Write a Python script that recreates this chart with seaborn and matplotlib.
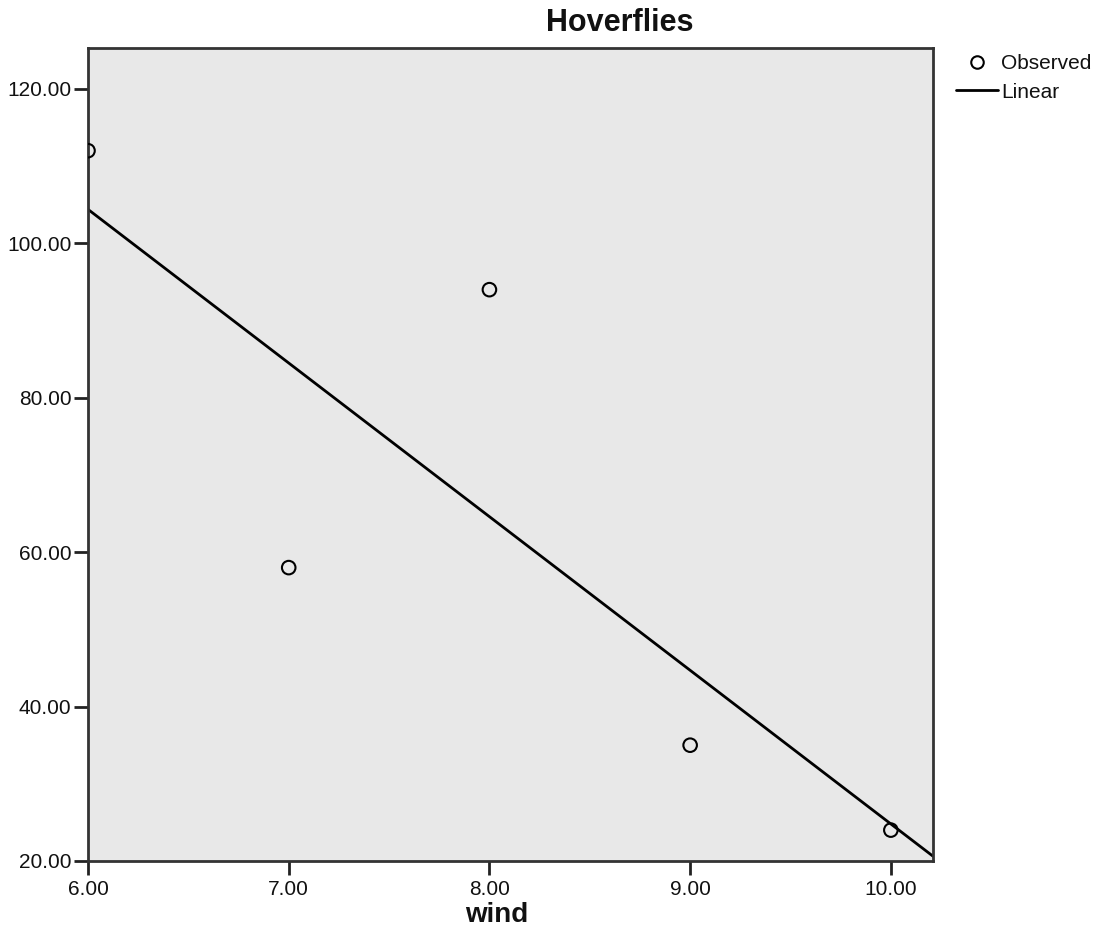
import matplotlib
matplotlib.use("Agg")
import matplotlib.pyplot as plt
import seaborn as sns
import pandas as pd
from matplotlib.lines import Line2D

# data
wind = [6.0, 7.0, 8.0, 9.0, 10.0]
hoverflies = [112, 58, 94, 35, 24]
x_ticks = [6.0, 7.0, 8.0, 9.0, 10.0]
y_ticks = [20.0, 40.0, 60.0, 80.0, 100.0, 120.0]

df = pd.DataFrame({"wind": wind, "Hoverflies": hoverflies})

sns.set_theme(style="ticks")
plt.rcParams["font.family"] = ["Liberation Sans", "DejaVu Sans"]

fig = plt.figure(figsize=(11.07, 9.32), dpi=100)
ax = fig.add_axes([88 / 1107, 1 - 861 / 932, (933 - 88) / 1107, (861 - 48) / 932])
ax.set_facecolor("#e8e8e8")
ax.set_xlim(6.0, 10.21)
ax.set_ylim(20.0, 125.3)

# fitted line across the whole axis, observed points as open circles
sns.regplot(data=df, x="wind", y="Hoverflies", ci=None, truncate=False,
            scatter=False, ax=ax, line_kws={"color": "black", "lw": 2})
sns.scatterplot(data=df, x="wind", y="Hoverflies", ax=ax, s=95,
                facecolor="none", edgecolor="black", linewidth=1.5, zorder=3)

ax.set_xticks(x_ticks)
ax.set_yticks(y_ticks)
ax.set_xticklabels([f"{v:.2f}" for v in x_ticks])
ax.set_yticklabels([f"{v:.2f}" for v in y_ticks])
ax.tick_params(axis="both", labelsize=15, length=10, width=2, color="#222222",
               labelcolor="#111111")
ax.tick_params(axis="x", pad=4)
ax.tick_params(axis="y", pad=2)
for sp in ax.spines.values():
    sp.set_color("#333333")
    sp.set_linewidth(2)

ax.set_xlabel("wind", fontsize=20, fontweight="bold", color="#111111", va="center")
ax.xaxis.set_label_coords((497 - 88) / 845, -(915 - 861) / 813)
ax.set_ylabel("")
fig.text(620 / 1107, 1 - 23 / 932, "Hoverflies", ha="center", va="center",
         fontsize=22, fontweight="bold", color="#111111")

handles = [
    Line2D([], [], ls="none", marker="o", markersize=9, markerfacecolor="none",
           markeredgecolor="black", markeredgewidth=1.5),
    Line2D([], [], color="black", lw=2),
]
fig.legend(handles, ["Observed", "Linear"], loc="upper left",
           bbox_to_anchor=(952 / 1107, 1 - 50 / 932), frameon=False,
           fontsize=15, handlelength=2.0, handletextpad=0.15,
           labelspacing=0.45, borderaxespad=0, borderpad=0.2,
           labelcolor="#111111")

fig.savefig("out.png", dpi=100)
